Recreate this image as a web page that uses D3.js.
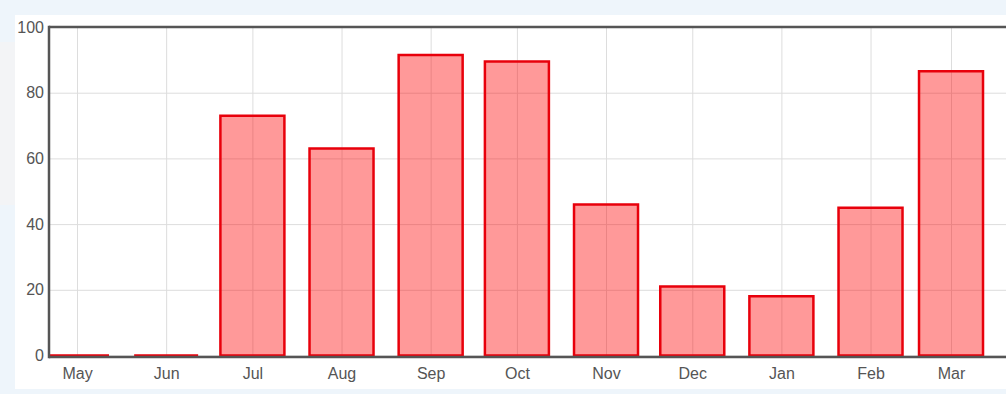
<!DOCTYPE html>
<html>
<head>
<meta charset="utf-8">
<script src="https://cdn.jsdelivr.net/npm/d3@7"></script>
<style>
    html, body { margin: 0; padding: 0; background: #eef5fb; overflow: hidden; }
    svg { display: block; }
    .tick text { font-family: "Liberation Sans", Arial, sans-serif; font-size: 16px; fill: #555; }
</style>
</head>
<body>
<div id="chart"></div>
<script>
// monthly values, May 2013 .. Mar 2014
var months = ["May", "Jun", "Jul", "Aug", "Sep", "Oct", "Nov", "Dec", "Jan", "Feb", "Mar"];
var values = [0, 0, 73, 63, 91.5, 89.5, 46, 21, 18, 45, 86.5];
var yTicks = [0, 20, 40, 60, 80, 100];

(function() {
    var dates = months.map(function(m, i) { return new Date(Date.UTC(2013, 4 + i, 1)); });
    var data = months.map(function(m, i) { return { month: m, date: dates[i], value: values[i] }; });

    var w = 1006, h = 394;
    var plotLeft = 49, plotTop = 27, plotBottom = 355.5, plotRight = 1006;
    var barWidth = 64;

    var svg = d3.select("#chart")
        .append("svg")
        .attr("width", w)
        .attr("height", h);

    // page bits
    svg.append("rect").attr("x", 0).attr("y", 42).attr("width", 15).attr("height", 163).attr("fill", "#f3f4f6");
    svg.append("rect").attr("x", 15).attr("y", 15).attr("width", w - 15).attr("height", 374).attr("fill", "#fff");

    var x = d3.scaleUtc()
        .domain([new Date(Date.UTC(2013, 3, 21, 6)), new Date(Date.UTC(2014, 2, 20, 3))])
        .range([plotLeft, plotRight]);

    var y = d3.scaleLinear()
        .domain([0, 100])
        .range([plotBottom, plotTop]);

    svg.append("defs").append("clipPath").attr("id", "plot-clip")
        .append("rect")
        .attr("x", plotLeft).attr("y", plotTop - 5)
        .attr("width", plotRight - plotLeft).attr("height", plotBottom - plotTop + 10);

    // grid
    svg.append("g")
        .attr("transform", "translate(0," + plotBottom + ")")
        .call(d3.axisBottom(x).tickValues(dates).tickSize(-(plotBottom - plotTop)).tickFormat(""))
        .call(function(g) { g.select(".domain").remove(); })
        .selectAll("line").attr("stroke", "#ddd");

    svg.append("g")
        .attr("transform", "translate(" + plotLeft + ",0)")
        .call(d3.axisLeft(y).tickValues(yTicks).tickSize(-(plotRight - plotLeft)).tickFormat(""))
        .call(function(g) { g.select(".domain").remove(); })
        .selectAll("line").attr("stroke", "#ddd");

    // bars (paths, so zero-height bars still get a stroke)
    svg.append("g")
        .attr("clip-path", "url(#plot-clip)")
        .selectAll("path")
        .data(data)
        .enter()
        .append("path")
        .attr("d", function(d) {
            var x0 = x(d.date) - barWidth / 2, x1 = x(d.date) + barWidth / 2;
            return "M" + x0 + "," + y(0) + "V" + y(d.value) + "H" + x1 + "V" + y(0) + "Z";
        })
        .attr("fill", "rgba(255,0,0,0.4)")
        .attr("stroke", "#e8000b")
        .attr("stroke-width", 2.5);

    // frame
    var frame = svg.append("g").attr("stroke", "#555").attr("stroke-width", 2.5).attr("fill", "none");
    frame.append("line").attr("x1", plotLeft).attr("x2", plotRight).attr("y1", plotTop).attr("y2", plotTop);
    frame.append("line").attr("x1", plotLeft).attr("x2", plotLeft).attr("y1", plotTop - 1.25).attr("y2", plotBottom + 2.75);
    frame.append("line").attr("x1", plotLeft).attr("x2", plotRight).attr("y1", plotBottom + 1.5).attr("y2", plotBottom + 1.5);

    // labels
    svg.append("g")
        .attr("transform", "translate(0," + plotBottom + ")")
        .call(d3.axisBottom(x).tickValues(dates).tickSize(0).tickPadding(12)
            .tickFormat(function(d, i) { return months[i]; }))
        .call(function(g) { g.select(".domain").remove(); });

    svg.append("g")
        .attr("transform", "translate(" + (plotLeft - 2) + ",0)")
        .call(d3.axisLeft(y).tickValues(yTicks).tickSize(0).tickPadding(3))
        .call(function(g) { g.select(".domain").remove(); });
})();
</script>
</body>
</html>
